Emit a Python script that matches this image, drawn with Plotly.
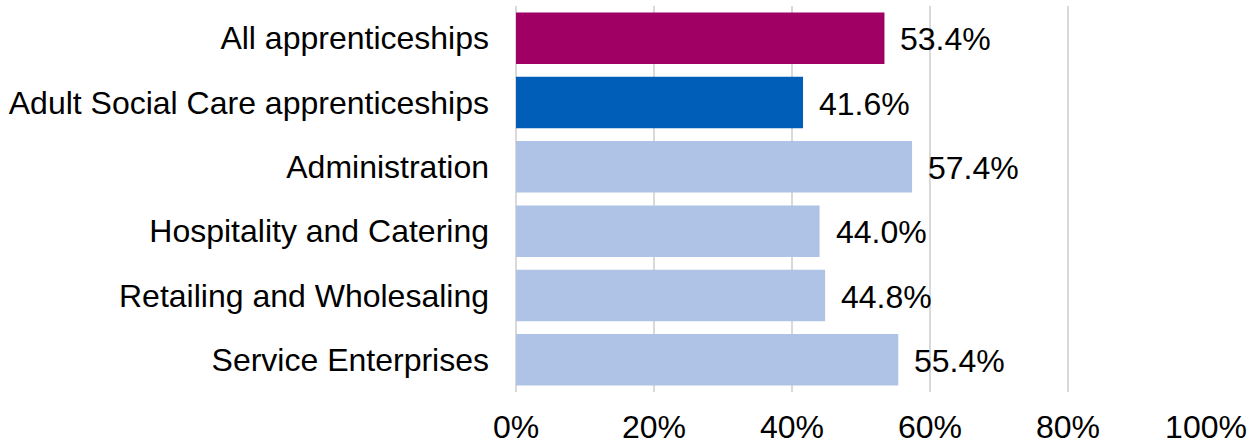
import plotly.graph_objects as go

categories = [
    "All apprenticeships",
    "Adult Social Care apprenticeships",
    "Administration",
    "Hospitality and Catering",
    "Retailing and Wholesaling",
    "Service Enterprises",
]
values = [53.4, 41.6, 57.4, 44.0, 44.8, 55.4]
bar_colors = ["#A00064", "#005EB8", "#AFC3E6", "#AFC3E6", "#AFC3E6", "#AFC3E6"]
x_ticks = [0, 20, 40, 60, 80, 100]
x_tick_labels = ["0%", "20%", "40%", "60%", "80%", "100%"]

FONT = "Liberation Sans, Arial, sans-serif"
SIZE = 32

fig = go.Figure(
    go.Bar(
        x=values,
        y=categories,
        orientation="h",
        marker=dict(color=bar_colors, line=dict(width=0)),
        hoverinfo="skip",
    )
)

# value labels to the right of each bar
for cat, val in zip(categories, values):
    fig.add_annotation(
        x=val, y=cat, text=f"{val:.1f}%", showarrow=False,
        xanchor="left", yanchor="middle", xshift=14, yshift=-1,
        font=dict(family=FONT, size=SIZE, color="#000000"),
    )

fig.update_layout(
    width=1254, height=447,
    margin=dict(l=516, r=48, t=6, b=55),
    paper_bgcolor="white", plot_bgcolor="white",
    bargap=0.2, showlegend=False,
    font=dict(family=FONT, size=SIZE, color="#000000"),
)
fig.update_xaxes(
    range=[0, 100], tickvals=x_ticks, ticktext=x_tick_labels,
    showgrid=True, gridcolor="#D9D9D9", gridwidth=1.5,
    zeroline=True, zerolinecolor="#D9D9D9", zerolinewidth=1.5,
    showline=False, ticks="", ticklabelstandoff=13, automargin=False,
    tickfont=dict(family=FONT, size=SIZE, color="#000000"),
)
fig.update_yaxes(
    autorange="reversed", showgrid=False, zeroline=False, showline=False,
    ticks="", ticklabelstandoff=26, automargin=False,
    tickfont=dict(family=FONT, size=SIZE, color="#000000"),
)

fig.write_html("out.html")
